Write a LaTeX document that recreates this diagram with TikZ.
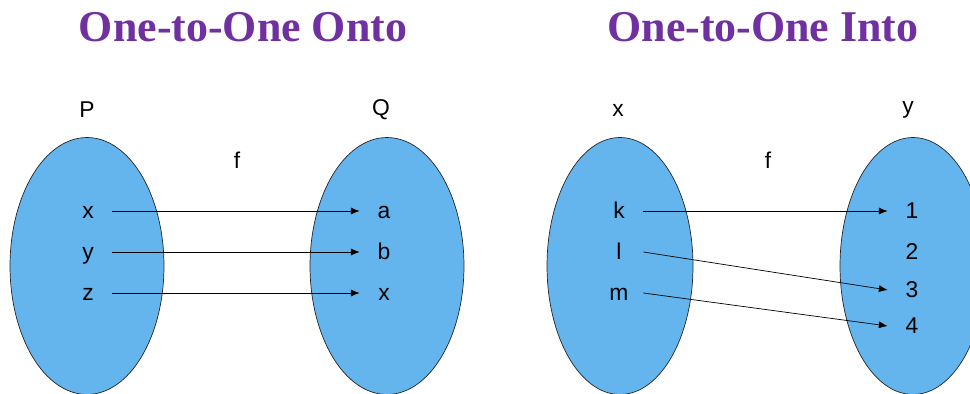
\documentclass[tikz,border=0pt]{standalone}
\usepackage{fontspec}
\setmainfont{Liberation Serif}
\newfontfamily\lblfont{Liberation Sans}
\usetikzlibrary{arrows.meta,shapes.geometric}
\definecolor{titlepurple}{RGB}{112,48,160}
\definecolor{setblue}{RGB}{100,181,238}

\begin{document}
\begin{tikzpicture}[x=0.02cm,y=-0.02cm,font=\lblfont\fontsize{13}{15}\selectfont]
\tikzset{set/.style={ellipse,draw=black!85,fill=setblue,inner sep=0pt,minimum height=5.14cm},
  elem/.style={inner sep=0pt,minimum width=0.96cm,text height=8pt,text depth=0pt},
  ttl/.style={font=\bfseries\fontsize{25}{30}\selectfont,text=titlepurple},
  map/.style={-{Latex[length=5pt,width=4pt]},thin}}
\useasboundingbox (0,0) rectangle (970,394);
% titles
\node[ttl] (ttlonto) at (243,27) {One-to-One Onto};
\node[ttl] (ttlinto) at (763,27) {One-to-One Into};
% onto
\node[set,minimum width=3.08cm] (setP) at (87,266) {};
\node[set,minimum width=3.08cm] (setQ) at (387,266) {};
\node (lblP) at (87,110) {P};
\node (lblQ) at (381,110) {Q};
\node (fonto) at (237,160) {f};
\node[elem] (px) at (88,211) {x};
\node[elem] (py) at (88,252) {y};
\node[elem] (pz) at (88,293) {z};
\node[elem] (qa) at (384,211) {a};
\node[elem] (qb) at (384,252) {b};
\node[elem] (qx) at (384,293) {x};
\draw[map] (px.east) -- (qa.west);
\draw[map] (py.east) -- (qb.west);
\draw[map] (pz.east) -- (qx.west);
% into
\node[set,minimum width=2.92cm] (setX) at (620,266) {};
\node[set,minimum width=2.92cm] (setY) at (913,266) {};
\node (lblX) at (618,110) {x};
\node (lblY) at (908,110) {y};
\node (finto) at (768,160) {f};
\node[elem] (xk) at (619,211) {k};
\node[elem] (xl) at (619,252) {l};
\node[elem] (xm) at (619,293) {m};
\node[elem] (y1) at (912,211) {1};
\node[elem] (y2) at (912,252) {2};
\node[elem] (y3) at (912,290) {3};
\node[elem] (y4) at (912,326) {4};
\draw[map] (xk.east) -- (y1.west);
\draw[map] (xl.east) -- (y3.west);
\draw[map] (xm.east) -- (y4.west);
\end{tikzpicture}
\end{document}
